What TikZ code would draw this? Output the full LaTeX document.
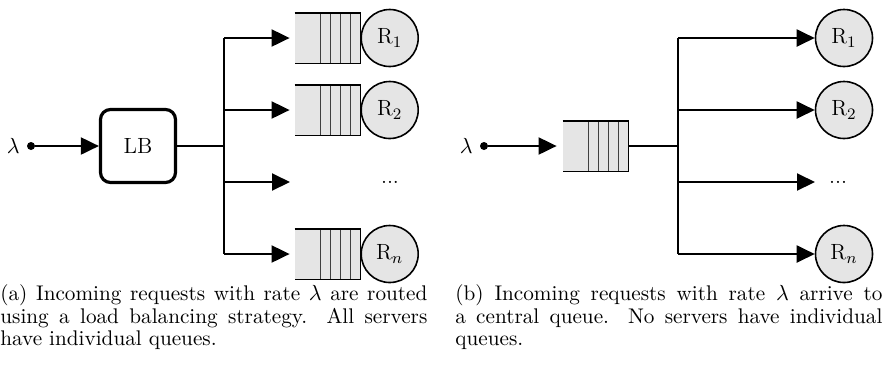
\documentclass[tikz,border=0pt]{standalone}
\usepackage{amsmath}
\usepackage{tikz}
\usetikzlibrary{arrows.meta,calc,positioning}

\tikzset{
    line/.style={line width=1pt},
    arr/.style={line width=1pt,-{Triangle[length=9pt,width=8.5pt]}},
    server/.style={shape=circle,draw=black,line width=0.8pt,fill=black!10,minimum size=28.5pt,inner sep=0pt},
    queue/.style={shape=rectangle,fill=black!10,minimum width=32.5pt,minimum height=25pt,inner sep=0pt},
    lbbox/.style={shape=rectangle,draw=black,line width=1.6pt,rounded corners=5pt,minimum width=37.5pt,minimum height=36.5pt},
    src/.style={shape=circle,fill=black,minimum size=4pt,inner sep=0pt},
    caption/.style={text width=213.5pt,align=justify,inner sep=0pt,anchor=north west,font=\fontsize{10.6}{11.4}\selectfont}
}

% open-ended queue drawn over a queue node
\newcommand{\queuelines}[1]{%
    \foreach \d in {1,...,4}
        \draw[line width=0.6pt,black!75] ($(#1.north east)+(-\d*10,0)$) -- ($(#1.south east)+(-\d*10,0)$);
    \draw[line width=0.9pt] (#1.north west) -- (#1.north east) -- (#1.south east) -- (#1.south west);
}

\begin{document}
\begin{tikzpicture}[x=0.5pt,y=-0.5pt,font=\fontsize{11}{13}\selectfont]
            \useasboundingbox (0,0) rectangle (882,366);

            % (a) load balancer with one queue per server
            \node[src] (inA) at (31,146) {};
            \node[left=0pt of inA] (lamA) {$\lambda$};
            \node[lbbox] (lb) at (138,146) {LB};
            \coordinate (splitA) at (224,146);
            \node[queue] (qa1) at (327.5,38) {};
            \node[queue] (qa2) at (327.5,110) {};
            \node[queue] (qan) at (327.5,254) {};
            \coordinate (ea3) at (290,182);
            \node[server,anchor=west] (ra1) at (qa1.east) {R$_1$};
            \node[server,anchor=west] (ra2) at (qa2.east) {R$_2$};
            \node[server,anchor=west] (ran) at (qan.east) {R$_n$};
            \node (dotsA) at (390,182) {...};
            \queuelines{qa1}
            \queuelines{qa2}
            \queuelines{qan}
            \draw[arr] (inA) -- (lb);
            \draw[line] (lb) -- (splitA);
            \draw[line] (splitA |- qa1) -- (splitA |- qan);
            \foreach \q in {qa1,qa2,qan}
                \draw[arr,shorten >=2.5pt] (splitA |- \q) -- (\q.west);
            \draw[arr] (splitA |- ea3) -- (ea3);

            % (b) one central queue
            \node[src] (inB) at (484,146) {};
            \node[left=0pt of inB] (lamB) {$\lambda$};
            \node[queue] (qc) at (595.5,146) {};
            \queuelines{qc}
            \coordinate (splitB) at (678,146);
            \node[server] (rb1) at (844,38) {R$_1$};
            \node[server] (rb2) at (844,110) {R$_2$};
            \node[server] (rbn) at (844,254) {R$_n$};
            \coordinate (eb3) at (815,182);
            \node (dotsB) at (838,182) {...};
            \draw[arr,shorten >=3pt] (inB) -- (qc);
            \draw[line] (qc) -- (splitB);
            \draw[line] (splitB |- rb1) -- (splitB |- rbn);
            \foreach \r in {rb1,rb2,rbn}
                \draw[arr] (splitB |- \r) -- (\r);
            \draw[arr] (splitB |- eb3) -- (eb3);

            % captions
            \node[caption] (capA) at (0,284) {(a) Incoming requests with rate $\lambda$ are routed\linebreak using a load balancing strategy. All servers\linebreak have individual queues.};
            \node[caption] (capB) at (455,284) {(b) Incoming requests with rate $\lambda$ arrive to\linebreak a central queue. No servers have individual\linebreak queues.};
        \end{tikzpicture}
\end{document}
